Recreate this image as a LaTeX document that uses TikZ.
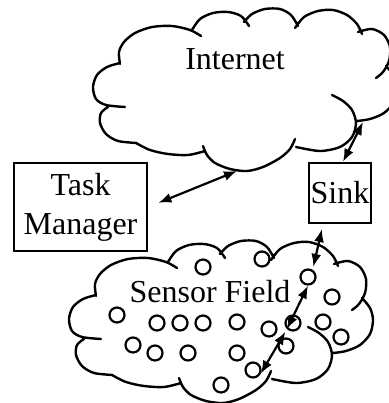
\documentclass[tikz,border=0pt]{standalone}
\usepackage{fontspec}
\setmainfont{Liberation Serif}
\usetikzlibrary{arrows.meta}

\begin{document}
\begin{tikzpicture}[x=1pt,y=-1pt,>={Latex[length=13pt,width=10pt]},
	box/.style={draw,line width=2.4pt,fill=white,inner sep=0pt,align=center,font=\fontsize{32}{39}\selectfont},
	cloudtext/.style={font=\fontsize{32}{39}\selectfont,anchor=base,inner sep=0pt},
	sensor/.style={draw,circle,line width=2.2pt,minimum size=15pt,inner sep=0pt},
	link/.style={<->,line width=2.2pt},
	puffcloud/.pic={
		\draw[line width=2.4pt,line cap=round]
			plot[smooth] coordinates {(120,64) (119,52) (124,42) (135,33) (152,27) (172,26) (190,30) (201,36)}
			plot[smooth] coordinates {(192,30) (200,19) (213,13) (228,12) (241,16) (249,26)}
			plot[smooth] coordinates {(244,22) (252,14) (265,9) (280,9) (291,15) (298,26)}
			plot[smooth] coordinates {(295,28) (304,17) (318,11) (333,10) (347,15) (357,24) (362,34)}
			plot[smooth] coordinates {(358,32) (372,29) (384,35) (390,47) (389,61) (383,72) (376,78)}
			plot[smooth] coordinates {(386,66) (394,76) (397,88) (394,102) (384,113) (370,119) (357,121)}
			plot[smooth] coordinates {(332,95) (343,101) (352,110) (356,123) (352,137) (340,147) (320,151) (296,147)}
			plot[smooth] coordinates {(295,139) (290,149) (280,158) (263,167) (247,171) (230,169) (215,163) (207,155) (203,146)}
			plot[smooth] coordinates {(205,151) (188,155) (168,154) (150,150) (136,143)}
			plot[smooth] coordinates {(137,143) (118,141) (106,134) (100,123) (101,113) (108,107)}
			plot[smooth] coordinates {(125,107) (106,105) (96,99) (93,87) (97,75) (107,67) (120,63)};
	}]
	\useasboundingbox (0,0) rectangle (388,403);

	% the two clouds
	\pic at (0,0) {puffcloud};
	\pic at (-24,232) {puffcloud};
	\node[cloudtext] (inet) at (235,70) {Internet};
	\node[cloudtext] (field) at (210,302) {Sensor Field};

	% boxes
	\node[box,minimum width=133pt,minimum height=88pt] (tm) at (80.5,207) {Task\\Manager};
	\node[box,minimum width=62pt,minimum height=60pt] (sink) at (340,193) {Sink};

	% sensor nodes
	\foreach \x/\y [count=\i] in {203/267,262/259,308/277,332/297,117/315,157/323,180/323,203/323,237/322,269/329,
		293/323,323/322,341/337,286/346,133/345,155/353,188/353,237/353,253/370,221/385}
		\node[sensor] (n\i) at (\x,\y) {};

	% links
	\coordinate (inetTM) at (237,171);
	\coordinate (inetSink) at (363,122);
	\draw[link,shorten <=11pt] (tm.east) -- (inetTM);
	\draw[link] ([xshift=3pt]sink.north) -- (inetSink);
	\draw[link,shorten <=5pt,shorten >=3pt] ([xshift=-17pt]sink.south) -- (n3.57);
	\draw[link] (n3.south) -- (n11.south west);
	\draw[link,shorten <=3pt] (n11.south west) -- (n19.-25);

\end{tikzpicture}
\end{document}
